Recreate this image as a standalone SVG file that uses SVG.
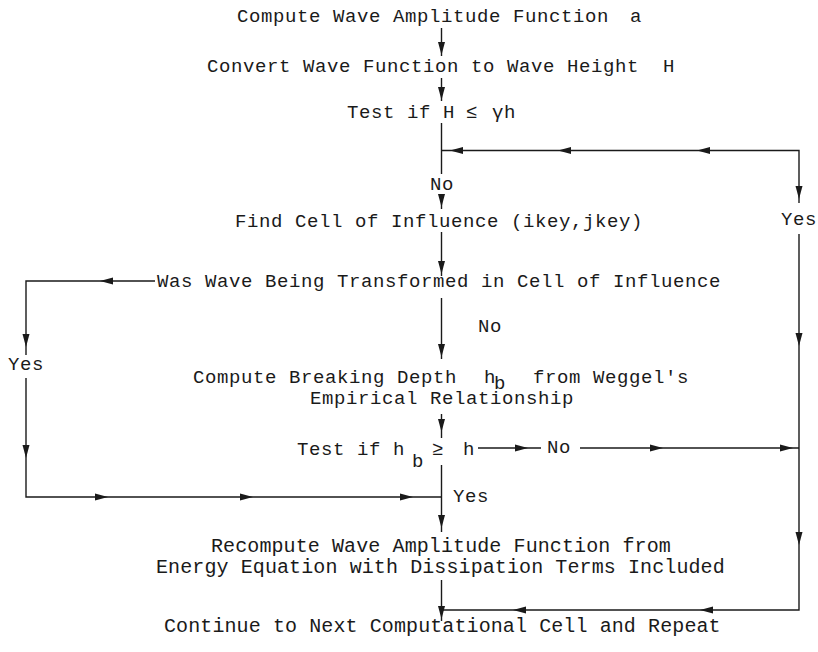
<svg xmlns="http://www.w3.org/2000/svg" xmlns:xlink="http://www.w3.org/1999/xlink" width="818" height="652" viewBox="0 0 818 652">
<style>
.t{font-family:"Liberation Mono","Courier New",monospace;font-size:19px;letter-spacing:0.6px;fill:#1a1a1a}
.b{font-family:"Liberation Mono","Courier New",monospace;font-size:20px;letter-spacing:0.1px;fill:#1a1a1a}
.ln{stroke:#1a1a1a;stroke-width:1.4;fill:none}
.ah{fill:#1a1a1a}
</style>
<defs>
<path id="ad" class="ah" d="M0,0 L-3.5,-13 L3.5,-13 Z"/>
<path id="al" class="ah" d="M0,0 L13,-3.5 L13,3.5 Z"/>
<path id="ar" class="ah" d="M0,0 L-13,-3.5 L-13,3.5 Z"/>
</defs>
<rect width="818" height="652" fill="#ffffff"/>

<g id="n1"><text class="t" x="237" y="22">Compute Wave Amplitude Function <tspan x="630">a</tspan></text></g>
<g id="n2"><text class="t" x="207" y="72">Convert Wave Function to Wave Height <tspan x="663">H</tspan></text></g>
<g id="n3"><text class="t" x="347" y="118">Test if <tspan x="443">H</tspan> <tspan x="466">≤</tspan> <tspan x="492">γh</tspan></text></g>
<g id="n4"><text class="t" x="235" y="227">Find Cell of Influence (ikey,jkey)</text></g>
<g id="n5"><text class="t" x="157" y="287">Was Wave Being Transformed in Cell of Influence</text></g>
<g id="n6"><text class="t" x="193" y="383">Compute Breaking Depth <tspan x="484">h</tspan><tspan x="494" y="389">b</tspan> <tspan x="533" y="383">from Weggel's</tspan></text>
<text class="t" x="310" y="404">Empirical Relationship</text></g>
<g id="n7"><text class="t" x="297" y="455">Test if <tspan x="393">h</tspan><tspan x="412" y="467">b</tspan><tspan x="432" y="455">≥</tspan> <tspan x="463">h</tspan></text></g>
<g id="n8"><text class="b" x="211" y="552">Recompute Wave Amplitude Function from</text>
<text class="b" x="156" y="573">Energy Equation with Dissipation Terms Included</text></g>
<g id="n9"><text class="b" x="164" y="632">Continue to Next Computational Cell and Repeat</text></g>

<g id="connectors">
<path class="ln" d="M441.5,28 V56"/>
<use xlink:href="#ad" x="441.5" y="55"/>
<path class="ln" d="M441.5,78 V101"/>
<use xlink:href="#ad" x="441.5" y="100"/>
<path class="ln" d="M441.5,123 V174"/>
<path class="ln" d="M799,203 V150.5 H441.5"/>
<use xlink:href="#al" x="450" y="150.5"/>
<use xlink:href="#al" x="558" y="150.5"/>
<use xlink:href="#al" x="697" y="150.5"/>
<use xlink:href="#ad" x="799" y="199"/>
<path class="ln" d="M441.5,195 V209"/>
<use xlink:href="#ad" x="441.5" y="207"/>
<path class="ln" d="M441.5,232 V276"/>
<use xlink:href="#ad" x="441.5" y="274"/>
<path class="ln" d="M155,281 H26 V355"/>
<use xlink:href="#al" x="100" y="281"/>
<use xlink:href="#ad" x="26" y="347"/>
<path class="ln" d="M26,378 V497 H441.5"/>
<use xlink:href="#ad" x="26" y="458"/>
<use xlink:href="#ar" x="108" y="497"/>
<use xlink:href="#ar" x="253" y="497"/>
<use xlink:href="#ar" x="413" y="497"/>
<path class="ln" d="M441.5,298 V359"/>
<use xlink:href="#ad" x="441.5" y="357"/>
<path class="ln" d="M441.5,414 V438"/>
<use xlink:href="#ad" x="441.5" y="432"/>
<path class="ln" d="M441.5,465 V532"/>
<use xlink:href="#ad" x="441.5" y="528"/>
<path class="ln" d="M478,448 H541"/>
<use xlink:href="#ar" x="528" y="448"/>
<path class="ln" d="M580,448 H799"/>
<use xlink:href="#ar" x="663" y="448"/>
<use xlink:href="#ar" x="793" y="448"/>
<path class="ln" d="M799,234 V610 H441.5"/>
<use xlink:href="#ad" x="799" y="346"/>
<use xlink:href="#ad" x="799" y="545"/>
<use xlink:href="#al" x="513" y="610"/>
<use xlink:href="#al" x="700" y="610"/>
<path class="ln" d="M441.5,580 V621"/>
<use xlink:href="#ad" x="441.5" y="619"/>
<g id="labels">
<text class="t" x="430" y="190">No</text>
<text class="t" x="781" y="225">Yes</text>
<text class="t" x="478" y="332">No</text>
<text class="t" x="8" y="370">Yes</text>
<text class="t" x="547" y="453">No</text>
<text class="t" x="453" y="502">Yes</text>
</g>
</g>
</svg>
